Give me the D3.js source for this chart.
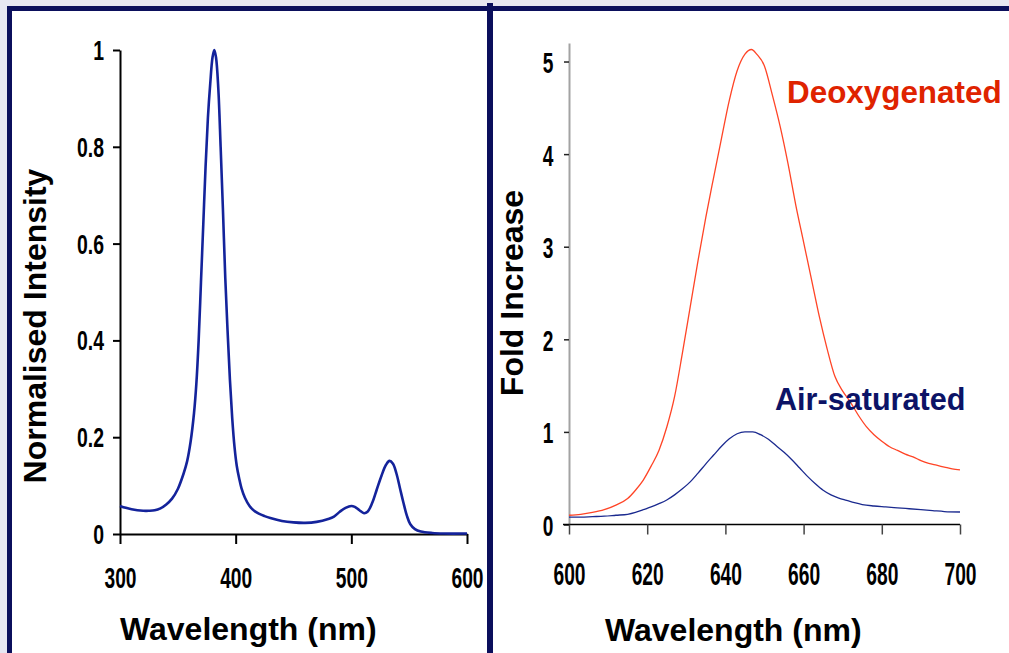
<!DOCTYPE html>
<html>
<head>
<meta charset="utf-8">
<script src="https://cdn.jsdelivr.net/npm/d3@7"></script>
<style>
  html, body { margin: 0; padding: 0; background: #e7e7f2; }
  svg { display: block; }
</style>
</head>
<body>
<svg id="chart" width="1009" height="653"></svg>
<script>
// Emission spectrum (left panel)
const emissionWavelength = [300,305,310,315,320,325,330,335,340,345,350,355,358,361,364,366,368,370,372,374,376,378,380,381.5,383,385,387,389,391,393,395,397,399,401,403,405,408,412,416,420,425,430,440,450,460,470,480,485,490,495,500,503,507,511,514,518,522,526,530,533,536,539,542,545,548,551,555,560,570,580,600];
const emissionIntensity = [0.058,0.054,0.051,0.049,0.048,0.048,0.049,0.053,0.061,0.073,0.093,0.125,0.150,0.190,0.250,0.310,0.400,0.520,0.640,0.760,0.860,0.930,0.985,1.0,0.985,0.920,0.800,0.670,0.530,0.420,0.320,0.240,0.180,0.140,0.115,0.095,0.075,0.058,0.048,0.042,0.037,0.033,0.027,0.024,0.023,0.025,0.031,0.036,0.046,0.054,0.058,0.056,0.049,0.043,0.046,0.064,0.092,0.120,0.143,0.151,0.145,0.125,0.095,0.065,0.038,0.020,0.010,0.005,0.002,0.001,0.001];

// Fold increase, deoxygenated (right panel, red)
const deoxyWavelength = [600,603,606,609,612,615,617,619,621,623,625,627,629,631,633,635,637,639,641,643,645,646.7,648,650,652,654,656,658,660,662,664,666,668,670,672,674,676,678,680,682,684,686,688,690,692,694,696,698,700];
const deoxyFold = [0.10,0.11,0.13,0.16,0.21,0.28,0.37,0.48,0.63,0.80,1.05,1.38,1.85,2.35,2.85,3.32,3.75,4.17,4.58,4.90,5.08,5.13,5.08,4.95,4.64,4.30,3.90,3.45,3.05,2.65,2.25,1.90,1.60,1.44,1.32,1.18,1.06,0.97,0.90,0.84,0.80,0.76,0.73,0.69,0.66,0.64,0.62,0.60,0.59];

// Fold increase, air-saturated (right panel, blue)
const airWavelength = [600,603,606,609,612,615,617,619,621,623,625,627,629,631,633,635,637,639,641,643,645,647,649,651,653,655,657,659,661,663,665,667,669,671,673,675,678,681,684,687,690,693,696,700];
const airFold = [0.08,0.08,0.085,0.09,0.10,0.11,0.13,0.16,0.19,0.225,0.265,0.32,0.385,0.46,0.555,0.655,0.75,0.845,0.925,0.98,1.0,1.0,0.97,0.92,0.85,0.78,0.70,0.61,0.52,0.44,0.37,0.32,0.285,0.26,0.235,0.215,0.20,0.19,0.18,0.17,0.16,0.15,0.14,0.135];

// Tick labels
const leftXTicks = [300, 400, 500, 600];
const leftYTicks = [0, 0.2, 0.4, 0.6, 0.8, 1];
const leftYLabels = ["0", "0.2", "0.4", "0.6", "0.8", "1"];
const rightXTicks = [600, 620, 640, 660, 680, 700];
const rightYTicks = [0, 1, 2, 3, 4, 5];

const svg = d3.select("#chart");
const NAVY = "#0b0f5c";
const tickFont = "'Liberation Sans', Arial, sans-serif";
const titleFont = "'Liberation Sans', Arial, sans-serif";

// Page frame
svg.append("rect").attr("x", 7).attr("y", 6).attr("width", 1002).attr("height", 647).attr("fill", "#ffffff");
svg.append("line").attr("x1", 7).attr("x2", 1009).attr("y1", 8.5).attr("y2", 8.5)
  .attr("stroke", NAVY).attr("stroke-width", 5);
svg.append("line").attr("x1", 9.5).attr("x2", 9.5).attr("y1", 6).attr("y2", 653)
  .attr("stroke", NAVY).attr("stroke-width", 5);
svg.append("line").attr("x1", 490).attr("x2", 490).attr("y1", 3).attr("y2", 653)
  .attr("stroke", NAVY).attr("stroke-width", 6);

// Condensed bold tick labels: horizontal squeeze applied per text node
function styleTicks(g, size, sx, anchor, xOff, yOff) {
  g.selectAll(".tick text")
    .attr("font-family", tickFont).attr("font-weight", "bold").attr("font-size", size)
    .attr("fill", "#000").attr("text-anchor", anchor)
    .attr("x", xOff / sx).attr("dy", null).attr("y", yOff)
    .attr("transform", `scale(${sx},1)`);
}

// ---------- Left panel ----------
const xL = d3.scaleLinear().domain([300, 600]).range([120, 467]);
const yL = d3.scaleLinear().domain([0, 1]).range([534, 50]);

const gLY = svg.append("g").attr("transform", "translate(120,0)")
  .call(d3.axisLeft(yL).tickValues(leftYTicks).tickSize(7).tickSizeOuter(0)
    .tickFormat((d, i) => leftYLabels[i]));
gLY.select(".domain").attr("stroke", "#000").attr("stroke-width", 2);
gLY.selectAll(".tick line").attr("stroke", "#000").attr("stroke-width", 2);
styleTicks(gLY, 27, 0.72, "end", -16, 9.5);

const gLX = svg.append("g").attr("transform", "translate(0,534)")
  .call(d3.axisBottom(xL).tickValues(leftXTicks).tickSize(10).tickSizeOuter(0)
    .tickFormat(d3.format("d")));
gLX.select(".domain").attr("stroke", "#000").attr("stroke-width", 2);
gLX.selectAll(".tick line").attr("stroke", "#000").attr("stroke-width", 2);
styleTicks(gLX, 30, 0.64, "middle", 0, 54);

svg.append("path")
  .datum(emissionWavelength.map((w, i) => [w, emissionIntensity[i]]))
  .attr("fill", "none").attr("stroke", "#14239b").attr("stroke-width", 2.6)
  .attr("stroke-linejoin", "round")
  .attr("d", d3.line().x(d => xL(d[0])).y(d => yL(d[1])).curve(d3.curveCatmullRom.alpha(0.5)));

svg.append("text").attr("x", 120).attr("y", 640)
  .attr("font-family", titleFont).attr("font-weight", "bold")
  .attr("font-size", 32).attr("fill", "#000").text("Wavelength (nm)");

svg.append("text").attr("transform", "translate(45.5,326) rotate(-90)")
  .attr("text-anchor", "middle")
  .attr("font-family", titleFont).attr("font-weight", "bold")
  .attr("font-size", 32).attr("fill", "#000").text("Normalised Intensity");

// ---------- Right panel ----------
const xR = d3.scaleLinear().domain([600, 700]).range([569, 960]);
const yR = d3.scaleLinear().domain([0, 5.2]).range([524.5, 43]);

const gRY = svg.append("g").attr("transform", "translate(569,0)")
  .call(d3.axisLeft(yR).tickValues(rightYTicks).tickSize(5).tickSizeOuter(0)
    .tickFormat(d3.format("d")));
gRY.select(".domain").attr("stroke", "#a3a3a3").attr("stroke-width", 2);
gRY.selectAll(".tick line").attr("stroke", "#222").attr("stroke-width", 1.5);
styleTicks(gRY, 29, 0.66, "end", -15.7, 11);

svg.append("line").attr("x1", 563).attr("x2", 960).attr("y1", yR(0)).attr("y2", yR(0))
  .attr("stroke", "#000").attr("stroke-width", 1.6);
const gRX = svg.append("g").attr("transform", `translate(0,${yR(0)})`)
  .call(d3.axisBottom(xR).tickValues(rightXTicks).tickSize(10).tickSizeOuter(0)
    .tickFormat(d3.format("d")));
gRX.select(".domain").remove();
gRX.selectAll(".tick line").attr("stroke", "#444").attr("stroke-width", 1.5);
styleTicks(gRX, 31, 0.62, "middle", 0, 60.5);

const lineR = d3.line().x(d => xR(d[0])).y(d => yR(d[1])).curve(d3.curveMonotoneX);
svg.append("path")
  .datum(airWavelength.map((w, i) => [w, airFold[i]]))
  .attr("fill", "none").attr("stroke", "#1b2a8f").attr("stroke-width", 1.3)
  .attr("d", lineR);
svg.append("path")
  .datum(deoxyWavelength.map((w, i) => [w, deoxyFold[i]]))
  .attr("fill", "none").attr("stroke", "#ff4426").attr("stroke-width", 1.3)
  .attr("d", lineR);

svg.append("text").attr("x", 787).attr("y", 103)
  .attr("font-family", titleFont).attr("font-weight", "bold")
  .attr("font-size", 31.4).attr("fill", "#df2300").text("Deoxygenated");
svg.append("text").attr("x", 775).attr("y", 409.5)
  .attr("font-family", titleFont).attr("font-weight", "bold")
  .attr("font-size", 30.6).attr("fill", "#0c1366").text("Air-saturated");

svg.append("text").attr("x", 605).attr("y", 641)
  .attr("font-family", titleFont).attr("font-weight", "bold")
  .attr("font-size", 32).attr("fill", "#000").text("Wavelength (nm)");

svg.append("text").attr("transform", "translate(522.5,293) rotate(-90)")
  .attr("text-anchor", "middle")
  .attr("font-family", titleFont).attr("font-weight", "bold")
  .attr("font-size", 32).attr("fill", "#000").text("Fold Increase");
</script>
</body>
</html>
